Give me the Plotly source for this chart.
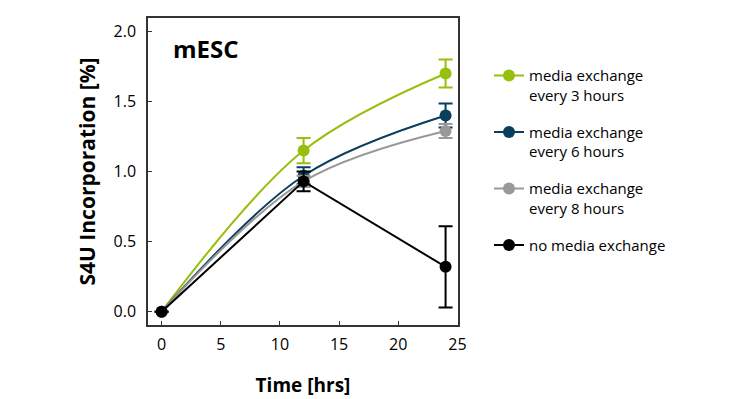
import plotly.graph_objects as go

time_hrs = [0, 12, 24]
names = ["media exchange<br>every 3 hours", "media exchange<br>every 6 hours",
         "media exchange<br>every 8 hours", "no media exchange"]
values = [
    [0.0, 1.15, 1.70],
    [0.0, 0.97, 1.40],
    [0.0, 0.93, 1.29],
    [0.0, 0.93, 0.32],
]
errors = [
    [0.0, 0.09, 0.10],
    [0.0, 0.06, 0.085],
    [0.0, 0.04, 0.05],
    [0.0, 0.07, 0.29],
]
colors = ["#97bf0d", "#0b3d5c", "#999999", "#000000"]
shapes = ["spline", "spline", "spline", "linear"]

x_ticks = [0, 5, 10, 15, 20, 25]
y_ticks = [0.0, 0.5, 1.0, 1.5, 2.0]

FONT = "Open Sans"
fig = go.Figure()
for i in range(4):
    fig.add_trace(go.Scatter(
        x=time_hrs, y=values[i], name=names[i], mode="lines+markers",
        line=dict(color=colors[i], width=2, shape=shapes[i]),
        marker=dict(color=colors[i], size=12),
        error_y=dict(type="data", array=errors[i], color=colors[i], thickness=2, width=7),
        legendgroup=str(i),
    ))

fig.add_annotation(x=0.075, y=0.902, xref="paper", yref="paper", text="<b>mESC</b>",
                   showarrow=False, xanchor="left", yanchor="middle",
                   font=dict(family=FONT, size=24, color="#000"))

axis_common = dict(showline=True, linecolor="#333", linewidth=1.5, mirror=True,
                   ticks="inside", ticklen=4, tickwidth=1.2, tickcolor="#333",
                   showgrid=False, zeroline=False, automargin=False,
                   tickfont=dict(family=FONT, size=16, color="#000"))
fig.update_xaxes(range=[-1.15, 25.05], tickvals=x_ticks, ticktext=[str(v) for v in x_ticks],
                 ticklabelstandoff=4,
                 title=dict(text="<b>Time [hrs]</b>", font=dict(family=FONT, size=19, color="#000"), standoff=25),
                 **axis_common)
fig.update_yaxes(range=[-0.095, 2.096], tickvals=y_ticks, ticktext=[f"{v:.1f}" for v in y_ticks],
                 ticklabelstandoff=7,
                 title=dict(text="<b>S4U Incorporation [%]</b>", font=dict(family=FONT, size=21, color="#000"), standoff=12),
                 **axis_common)

fig.update_layout(
    width=738, height=399,
    margin=dict(l=140, r=288, t=10, b=82),
    paper_bgcolor="white", plot_bgcolor="white",
    font=dict(family=FONT, color="#000"),
    legend=dict(x=1.1, y=0.866, xanchor="left", yanchor="top", valign="top",
                font=dict(family=FONT, size=15, color="#000"), itemwidth=30,
                tracegroupgap=14.5, bgcolor="rgba(0,0,0,0)"),
)
fig.write_html("out.html")
